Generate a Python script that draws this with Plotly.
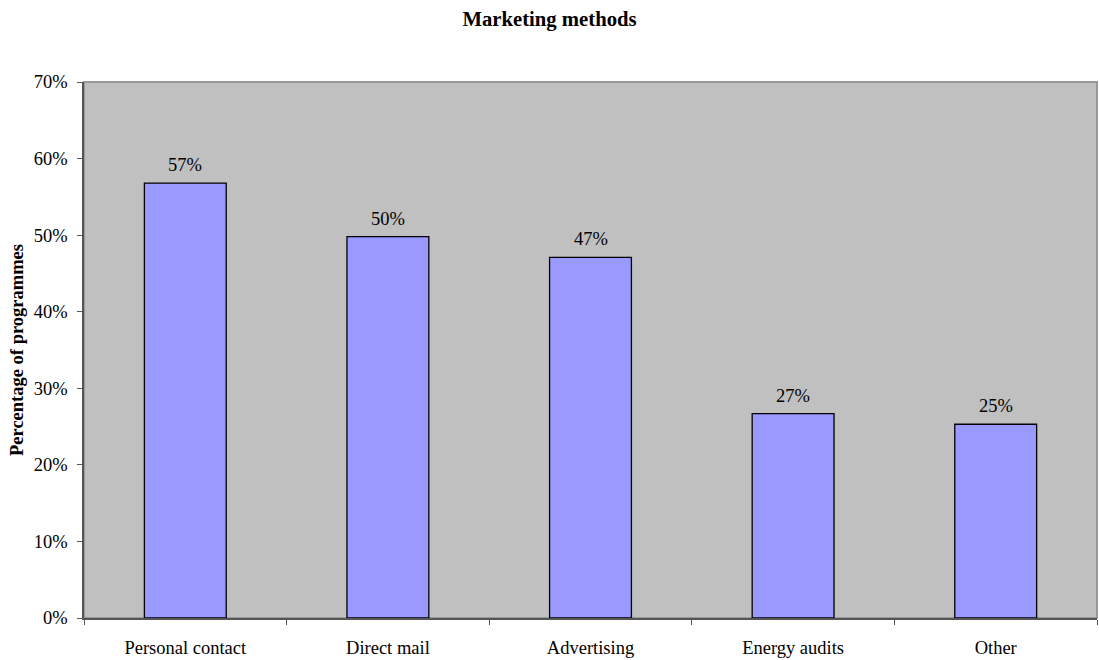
import plotly.graph_objects as go

categories = ["Personal contact", "Direct mail", "Advertising", "Energy audits", "Other"]
values = [56.8, 49.8, 47.1, 26.7, 25.3]
labels = ["57%", "50%", "47%", "27%", "25%"]
y_ticks = [0, 10, 20, 30, 40, 50, 60, 70]
y_tick_text = ["0%", "10%", "20%", "30%", "40%", "50%", "60%", "70%"]

FONT = "Liberation Serif, Times New Roman, serif"
FS = 18.5

fig = go.Figure()
fig.add_trace(go.Bar(
    x=categories, y=values,
    marker=dict(color="#9999FF", line=dict(color="#000000", width=1.3)),
    width=0.404,
    hoverinfo="skip",
))

for c, v, t in zip(categories, values, labels):
    fig.add_annotation(x=c, y=v, text=t, showarrow=False, yanchor="bottom",
                       yshift=6, font=dict(family=FONT, size=FS, color="#000"))

fig.add_shape(type="rect", xref="paper", yref="paper", x0=0, x1=1, y0=0, y1=1,
              line=dict(color="#999999", width=2), layer="below")

fig.update_layout(
    width=1099, height=660,
    margin=dict(l=84, r=2, t=82, b=42),
    paper_bgcolor="white", plot_bgcolor="#C0C0C0",
    title=dict(text="<b>Marketing methods</b>", x=0.5, xanchor="center", y=1 - 19 / 660,
               yanchor="middle", font=dict(family=FONT, size=20.7, color="#000")),
    font=dict(family=FONT, size=FS, color="#000"),
    showlegend=False,
    xaxis=dict(
        type="category", tickson="boundaries", ticks="outside", ticklen=5,
        tickcolor="#555", showline=True, linecolor="#555", linewidth=1.5,
        showgrid=False, ticklabelstandoff=12,
        tickfont=dict(family=FONT, size=FS, color="#000"),
    ),
    yaxis=dict(
        range=[0, 70], tickvals=y_ticks, ticktext=y_tick_text,
        ticks="outside", ticklen=5, tickcolor="#555",
        showline=True, linecolor="#555", linewidth=1.5,
        showgrid=False, zeroline=False, ticklabelstandoff=6,
        tickfont=dict(family=FONT, size=FS, color="#000"),
        title=dict(text="<b>Percentage of programmes</b>", standoff=5,
                   font=dict(family=FONT, size=FS, color="#000")),
    ),
)

fig.write_html("out.html", config={"displayModeBar": False},
               post_script="document.body.style.margin='0';")
